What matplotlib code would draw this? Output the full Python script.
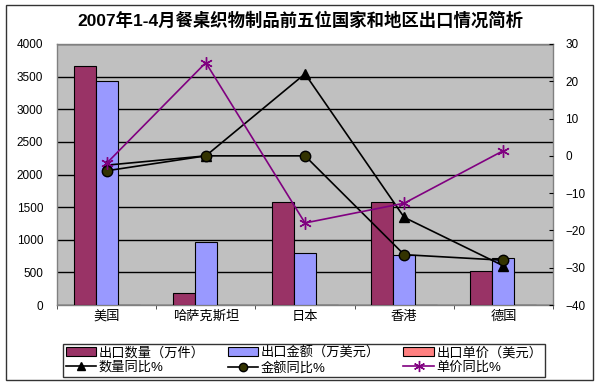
import matplotlib
matplotlib.use("Agg")
import matplotlib.pyplot as plt
import numpy as np
from matplotlib.patches import Patch, Rectangle
from matplotlib.lines import Line2D

plt.rcParams['font.family'] = ['Liberation Sans', 'Noto Sans CJK SC', 'DejaVu Sans']

categories = ['美国', '哈萨克斯坦', '日本', '香港', '德国']
qty = [3660, 190, 1580, 1580, 520]          # 出口数量（万件）
amount = [3430, 970, 790, 770, 725]         # 出口金额（万美元）
price = [0.9, 5.1, 0.5, 0.5, 1.4]           # 出口单价（美元）
qty_yoy = [-2.5, 0, 22, -16.5, -29.5]       # 数量同比%
amt_yoy = [-4, 0, 0, -26.5, -28]            # 金额同比%
price_yoy = [-2, 25, -18, -12.7, 1.4]       # 单价同比%

title = '2007年1-4月餐桌织物制品前五位国家和地区出口情况简析'
series_names = ['出口数量（万件）', '出口金额（万美元）', '出口单价（美元）',
                '数量同比%', '金额同比%', '单价同比%']

W, H = 600, 387
fig = plt.figure(figsize=(W / 100, H / 100), dpi=100)
fig.patch.set_facecolor('white')

# outer border
fig.patches.append(Rectangle((6 / W, 1 - 380 / H), (593 - 6) / W, (380 - 5) / H,
                             transform=fig.transFigure, fill=False,
                             edgecolor='#333333', lw=1.0))

ax = fig.add_axes([57 / W, 1 - 305 / H, (553 - 57) / W, (305 - 44) / H])
ax.set_facecolor('#C0C0C0')
for s in ax.spines.values():
    s.set_color('#808080')
    s.set_linewidth(1.0)

x = np.arange(len(categories))
bw = 0.222
c_qty, c_amt, c_price = '#993366', '#9999FF', '#FF8080'
ax.bar(x - bw, qty, bw, color=c_qty, edgecolor='black', lw=0.8, zorder=3)
ax.bar(x, amount, bw, color=c_amt, edgecolor='black', lw=0.8, zorder=3)
ax.bar(x + bw, price, bw, color=c_price, edgecolor='black', lw=0.8, zorder=3)

ax.set_xlim(-0.5, len(categories) - 0.5)
ax.set_ylim(0, 4000)
ax.set_yticks(np.arange(0, 4001, 500))
ax.yaxis.grid(True, color='black', lw=1.0, zorder=1)
ax.set_axisbelow(True)
ax.tick_params(axis='y', length=0, pad=10, labelsize=8.5)
ax.set_xticks(x)
ax.set_xticklabels(categories, fontsize=9.5)
ax.tick_params(axis='x', length=0, pad=4)
ax.set_xticks(np.arange(-0.5, len(categories), 1), minor=True)
ax.tick_params(axis='x', which='minor', length=3, direction='out', color='#333333')

ax2 = ax.twinx()
ax2.set_ylim(-40, 30)
ax2.set_yticks(np.arange(-40, 31, 10))
ax2.tick_params(axis='y', direction='in', length=3, pad=9, labelsize=8.5)
for s in ax2.spines.values():
    s.set_visible(False)

l1, = ax2.plot(x, qty_yoy, color='black', lw=1.2, marker='^', ms=7.5,
               mfc='black', mec='black', zorder=5)
l2, = ax2.plot(x, amt_yoy, color='black', lw=1.2, marker='o', ms=7.5,
               mfc='#333300', mec='black', zorder=5)
l3, = ax2.plot(x, price_yoy, color='#800080', lw=1.2, marker=(6, 2, 0), ms=9,
               mec='#800080', zorder=5)

fig.text(0.5, 1 - 20 / H, title, ha='center', va='center', fontsize=12.5,
         fontweight='bold')

h = [Patch(facecolor=c_qty, edgecolor='black', lw=0.8),
     Patch(facecolor=c_amt, edgecolor='black', lw=0.8),
     Patch(facecolor=c_price, edgecolor='black', lw=0.8),
     Line2D([], [], color='black', lw=1.2, marker='^', ms=6, mfc='black'),
     Line2D([], [], color='black', lw=1.2, marker='o', ms=6, mfc='#333300', mec='black'),
     Line2D([], [], color='#800080', lw=1.2, marker=(6, 2, 0), ms=8, mec='#800080')]
order = [0, 3, 1, 4, 2, 5]
leg = fig.legend([h[i] for i in order], [series_names[i] for i in order],
                 loc='lower left',
                 bbox_to_anchor=(63 / W, 1 - 377 / H, (545 - 63) / W, 39 / H),
                 mode='expand', ncol=3, fontsize=9.5, frameon=True, fancybox=False,
                 edgecolor='black', borderpad=0.2, labelspacing=0.15,
                 handlelength=2.3, handletextpad=0.2, borderaxespad=0,
                 handleheight=0.7)
leg.get_frame().set_linewidth(1.0)

fig.savefig('out.png', dpi=100)
